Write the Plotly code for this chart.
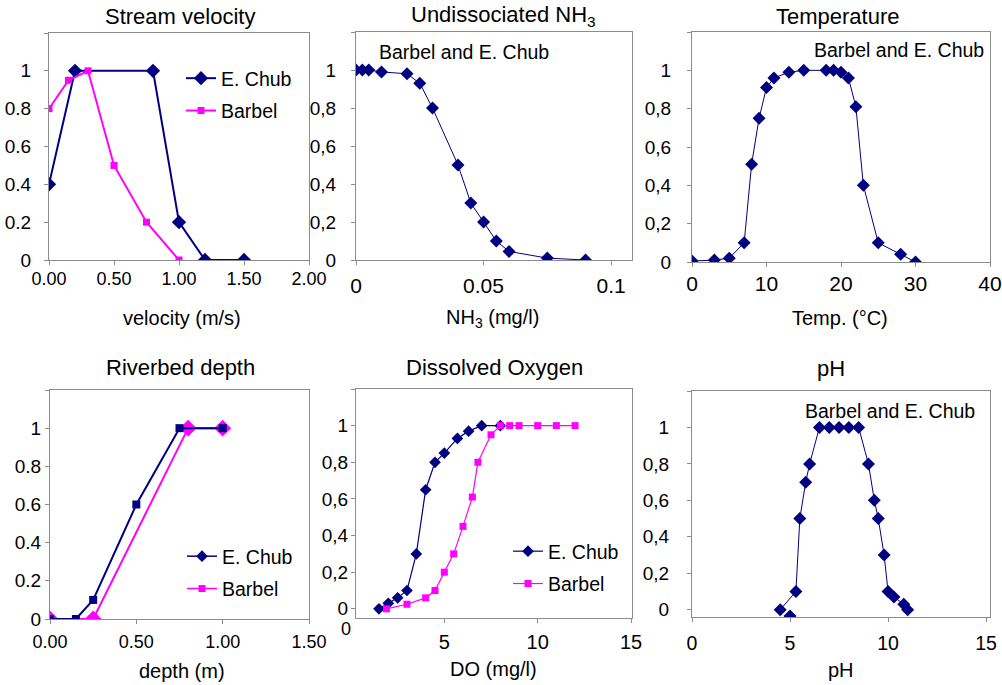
import plotly.graph_objects as go

W, H = 1002, 685
FONT = "Liberation Sans, Arial, sans-serif"
NAVY = "#000080"
MAGENTA = "#FF00FF"
GRAY = "#8c8c8c"

# ---------------- data ----------------
vel_chub_x = [0, 0.2, 0.8, 1.0, 1.2, 1.5]
vel_chub_y = [0.4, 1, 1, 0.2, 0, 0]
vel_barbel_x = [0, 0.15, 0.3, 0.5, 0.75, 1.0]
vel_barbel_y = [0.8, 0.95, 1, 0.5, 0.2, 0]

nh3_x = [0, 0.0025, 0.005, 0.01, 0.02, 0.025, 0.03, 0.04, 0.045, 0.05, 0.055, 0.06, 0.075, 0.09]
nh3_y = [1, 1, 1, 0.99, 0.98, 0.93, 0.8, 0.5, 0.3, 0.2, 0.1, 0.045, 0.01, 0]

temp_x = [0, 3, 5, 7, 8, 9, 10, 11, 13, 15, 18, 19, 20, 21, 22, 23, 25, 28, 30]
temp_y = [0.005, 0.01, 0.02, 0.1, 0.51, 0.75, 0.91, 0.96, 0.99, 1.0, 1.0, 1.0, 0.99, 0.96, 0.81, 0.40, 0.1, 0.04, 0.0]

depth_chub_x = [0, 0.15, 0.25, 0.5, 0.75, 1.0]
depth_chub_y = [0, 0, 0.1, 0.6, 1, 1]
depth_barbel_x = [0, 0.25, 0.8, 1.0]
depth_barbel_y = [0, 0, 1, 1]

do_chub_x = [1.5, 2, 2.5, 3, 3.5, 4, 4.5, 5, 5.7, 6.3, 7, 8]
do_chub_y = [0, 0.03, 0.06, 0.1, 0.3, 0.65, 0.8, 0.85, 0.93, 0.97, 1, 1]
do_barbel_x = [1.9, 3, 4, 4.5, 5, 5.5, 6, 6.5, 6.8, 7.5, 8, 8.5, 9, 10, 11, 12]
do_barbel_y = [0, 0.025, 0.06, 0.1, 0.2, 0.3, 0.45, 0.61, 0.8, 0.95, 1, 1, 1, 1, 1, 1]

ph_x = [4.5, 5.3, 5.5, 5.8, 6, 6.5, 7, 7.5, 8, 8.5, 9, 9.3, 9.5, 9.8, 10, 10.3, 10.8, 11]
ph_y = [0, 0.1, 0.5, 0.7, 0.8, 1, 1, 1, 1, 1, 0.8, 0.6, 0.5, 0.3, 0.1, 0.07, 0.03, 0]
ph_stray_x = [5]
ph_stray_y = [-0.035]

titles = ["Stream velocity", "Undissociated NH<sub>3</sub>", "Temperature",
          "Riverbed depth", "Dissolved Oxygen", "pH"]
xtitles = ["velocity (m/s)", "NH<sub>3</sub> (mg/l)", "Temp. (°C)",
           "depth (m)", "DO (mg/l)", "pH"]

y_vals = [0, 0.2, 0.4, 0.6, 0.8, 1]
y_text_dot = ["0", "0.2", "0.4", "0.6", "0.8", "1"]
y_text_comma = ["0", "0,2", "0,4", "0,6", "0,8", "1"]
y_top_tick = [1.2]

vel_ticks = [0, 0.5, 1.0, 1.5, 2.0]
vel_ticktext = ["0.00", "0.50", "1.00", "1.50", "2.00"]
nh3_ticks = [0, 0.05, 0.1]
nh3_ticktext = ["0", "0.05", "0.1"]
temp_ticks = [0, 10, 20, 30, 40]
depth_ticks = [0, 0.5, 1.0, 1.5]
depth_ticktext = ["0.00", "0.50", "1.00", "1.50"]
do_ticks = [5, 10, 15]
ph_ticks = [0, 5, 10, 15]


def fx(p):
    return p / W


def fy(p):
    return 1 - p / H


# panel geometry in pixels and per-panel text tuning
panels = [
    dict(px=(49, 309), py=(33, 260), xr=[0, 2], yr=[0, 1.2],
         xt=vel_ticks, xtt=vel_ticktext, ytt=y_text_dot, xfs=18, xso=-2, yso=9),
    dict(px=(356, 632), py=(32, 260), xr=[0, 0.1082], yr=[0, 1.2],
         xt=nh3_ticks, xtt=nh3_ticktext, ytt=y_text_comma, xfs=21, xso=3, yso=11),
    dict(px=(692, 990), py=(32, 262), xr=[0, 40], yr=[0, 1.2],
         xt=temp_ticks, xtt=[str(v) for v in temp_ticks], ytt=y_text_comma, xfs=21, xso=-1, yso=12),
    dict(px=(50, 309), py=(390, 619), xr=[0, 1.5], yr=[0, 1.2],
         xt=depth_ticks, xtt=depth_ticktext, ytt=y_text_dot, xfs=18, xso=2, yso=0),
    dict(px=(356, 632), py=(389, 618), xr=[0.27, 15.05], yr=[-0.05, 1.2],
         xt=do_ticks, xtt=[str(v) for v in do_ticks], ytt=y_text_comma, xfs=20, xso=2, yso=-1),
    dict(px=(692, 990), py=(391, 617), xr=[0, 15.2], yr=[-0.04, 1.2],
         xt=ph_ticks, xtt=[str(v) for v in ph_ticks], ytt=y_text_comma, xfs=19.5, xso=5, yso=14),
]

fig = go.Figure()


def ax(i):
    return ("x" if i == 0 else f"x{i+1}"), ("y" if i == 0 else f"y{i+1}")


def line_trace(i, x, y, name, color, symbol, msize, lw, showlegend=False, legend=None):
    xa, ya = ax(i)
    kw = dict(x=x, y=y, mode="lines+markers", name=name, xaxis=xa, yaxis=ya,
              line=dict(color=color, width=lw),
              marker=dict(color=color, symbol=symbol, size=msize),
              showlegend=showlegend, legendgroup=f"{name}{i}")
    if legend:
        kw["legend"] = legend
    return go.Scatter(**kw)


# Panel 1: stream velocity
fig.add_trace(line_trace(0, vel_chub_x, vel_chub_y, "E. Chub", NAVY, "diamond", 11, 2, True, "legend"))
fig.add_trace(line_trace(0, vel_barbel_x, vel_barbel_y, "Barbel", MAGENTA, "square", 7, 2, True, "legend"))

# Panel 2: NH3
fig.add_trace(line_trace(1, nh3_x, nh3_y, "Barbel and E. Chub", NAVY, "diamond", 10, 1))

# Panel 3: temperature
fig.add_trace(line_trace(2, temp_x, temp_y, "Barbel and E. Chub", NAVY, "diamond", 10, 1))

# Panel 4: riverbed depth
fig.add_trace(line_trace(3, depth_barbel_x, depth_barbel_y, "Barbel", MAGENTA, "diamond", 13, 2))
fig.add_trace(line_trace(3, depth_chub_x, depth_chub_y, "E. Chub", NAVY, "square", 8, 2))
fig.add_trace(line_trace(3, [None], [None], "E. Chub", NAVY, "diamond", 9, 1.5, True, "legend2"))
fig.add_trace(line_trace(3, [None], [None], "Barbel", MAGENTA, "square", 7, 1.5, True, "legend2"))

# Panel 5: dissolved oxygen
fig.add_trace(line_trace(4, do_chub_x, do_chub_y, "E. Chub", NAVY, "diamond", 9, 1.2, True, "legend3"))
fig.add_trace(line_trace(4, do_barbel_x, do_barbel_y, "Barbel", MAGENTA, "square", 7, 1.2, True, "legend3"))

# Panel 6: pH
fig.add_trace(line_trace(5, ph_x, ph_y, "Barbel and E. Chub", NAVY, "diamond", 10, 1))
xa, ya = ax(5)
fig.add_trace(go.Scatter(x=ph_stray_x, y=ph_stray_y, mode="markers", xaxis=xa, yaxis=ya,
                         marker=dict(color=NAVY, symbol="diamond", size=10), showlegend=False))

layout = dict(width=W, height=H, margin=dict(l=0, r=0, t=0, b=0, autoexpand=False),
              paper_bgcolor="white", plot_bgcolor="white",
              font=dict(family=FONT, color="black", size=18))

for i, p in enumerate(panels):
    xkey = "xaxis" if i == 0 else f"xaxis{i+1}"
    ykey = "yaxis" if i == 0 else f"yaxis{i+1}"
    xa, ya = ax(i)
    common = dict(showline=True, mirror=True, linecolor=GRAY, linewidth=1,
                  ticks="outside", ticklen=4, tickcolor=GRAY, tickwidth=1,
                  showgrid=False, zeroline=False, fixedrange=True, automargin=False)
    layout[xkey] = dict(domain=[fx(p["px"][0]), fx(p["px"][1])], range=p["xr"],
                        anchor=ya, tickmode="array", tickvals=p["xt"], ticktext=p["xtt"],
                        ticklabelstandoff=p["xso"],
                        tickfont=dict(family=FONT, size=p["xfs"], color="black"), **common)
    layout[ykey] = dict(domain=[fy(p["py"][1]), fy(p["py"][0])], range=p["yr"],
                        anchor=xa, tickmode="array", tickvals=y_vals, ticktext=p["ytt"],
                        ticklabelstandoff=p["yso"],
                        tickfont=dict(family=FONT, size=19, color="black"),
                        minor=dict(tickmode="array", tickvals=y_top_tick, ticks="outside",
                                   ticklen=4, tickcolor=GRAY, showgrid=False),
                        **common)

legend_common = dict(bgcolor="rgba(0,0,0,0)", font=dict(family=FONT, size=19.5, color="black"),
                     xanchor="left", yanchor="top", tracegroupgap=4, itemclick=False,
                     itemdoubleclick=False)
layout["legend"] = dict(x=fx(181), y=fy(59), **legend_common)
layout["legend2"] = dict(x=fx(182), y=fy(537), **legend_common)
layout["legend3"] = dict(x=fx(508), y=fy(532), **legend_common)

annotations = []
title_pos = [(180, 16), (503, 16), (838, 16), (180, 367), (494, 367), (831, 368)]
for t, (x, y) in zip(titles, title_pos):
    annotations.append(dict(text=t, x=fx(x), y=fy(y), xref="paper", yref="paper",
                            xanchor="center", yanchor="middle", showarrow=False,
                            font=dict(family=FONT, size=22, color="black")))
xt_pos = [(182, 318), (492, 318), (840, 318), (182, 671), (493, 669), (841, 670)]
for t, (x, y) in zip(xtitles, xt_pos):
    annotations.append(dict(text=t, x=fx(x), y=fy(y), xref="paper", yref="paper",
                            xanchor="center", yanchor="middle", showarrow=False,
                            font=dict(family=FONT, size=20, color="black")))
# "Barbel and E. Chub" notes
note_font = dict(family=FONT, size=19.5, color="black")
annotations.append(dict(text="Barbel and E. Chub", x=fx(377), y=fy(52), xref="paper", yref="paper",
                        xanchor="left", yanchor="middle", showarrow=False, font=note_font))
annotations.append(dict(text="Barbel and E. Chub", x=fx(986), y=fy(50), xref="paper", yref="paper",
                        xanchor="right", yanchor="middle", showarrow=False, font=note_font))
annotations.append(dict(text="Barbel and E. Chub", x=fx(803), y=fy(411), xref="paper", yref="paper",
                        xanchor="left", yanchor="middle", showarrow=False, font=note_font))
# stray "0" label of the DO x axis
annotations.append(dict(text="0", x=fx(346), y=fy(629), xref="paper", yref="paper",
                        xanchor="center", yanchor="middle", showarrow=False,
                        font=dict(family=FONT, size=18, color="black")))
layout["annotations"] = annotations

fig.update_layout(**layout)
fig.write_html("out.html", config={"displayModeBar": False},
               post_script="document.body.style.margin='0px';")
